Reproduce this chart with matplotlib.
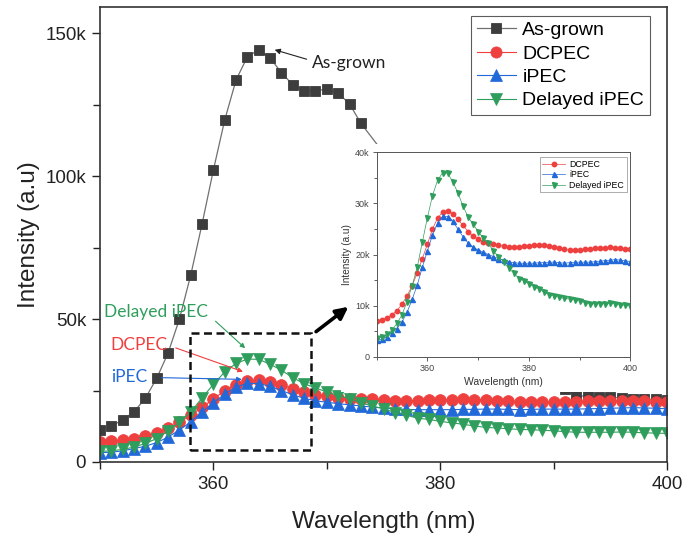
import numpy as np
import matplotlib
matplotlib.use('Agg')
import matplotlib.pyplot as plt
from matplotlib.patches import Rectangle, FancyArrowPatch
from matplotlib.ticker import FuncFormatter, MultipleLocator

plt.rcParams['font.family'] = ['Liberation Sans', 'DejaVu Sans']

# PL spectra, intensity in counts
wavelength = np.arange(350, 401)

asgrown_nm = [350, 351, 352, 353, 354, 355, 356, 357, 358, 359, 360, 361,
              362, 363, 364, 365, 366, 367, 368, 369, 370, 371, 372, 373,
              391, 392, 393, 394, 395, 396, 397, 398, 399, 400]
asgrown = [11.2, 12.6, 14.7, 17.6, 22.3, 29.3, 38.1, 50.0, 65.4, 83.3, 102.2, 119.7,
           133.7, 141.8, 144.2, 141.3, 136.2, 131.9, 129.9, 129.9, 130.4, 129.0, 125.3, 118.5,
           25.5, 23.2, 23.0, 22.8, 22.6, 22.4, 22.2, 22.0, 21.9, 21.8]

dcpec = [7.0, 7.2, 7.6, 8.2, 9.0, 10.3, 11.9, 13.9, 16.4, 19.2,
         22.0, 25.0, 27.1, 28.3, 28.6, 28.0, 26.9, 25.7, 24.5, 23.6,
         23.0, 22.5, 22.2, 22.0, 21.9, 21.6, 21.4, 21.5, 21.5, 21.7,
         21.7, 21.8, 21.9, 21.8, 21.7, 21.4, 21.2, 21.0, 20.9, 20.9,
         20.9, 21.0, 21.1, 21.2, 21.3, 21.3, 21.4, 21.3, 21.2, 21.1, 21.0]

ipec = [3.3, 3.4, 3.9, 4.7, 5.5, 6.8, 8.7, 11.2, 14.0, 17.5,
        20.7, 23.8, 26.2, 27.5, 27.4, 26.5, 25.0, 23.5, 22.3, 21.4,
        20.9, 20.4, 20.0, 19.6, 19.2, 18.9, 18.6, 18.4, 18.3, 18.3,
        18.3, 18.3, 18.4, 18.4, 18.5, 18.5, 18.4, 18.3, 18.4, 18.5,
        18.5, 18.5, 18.5, 18.6, 18.7, 18.8, 18.9, 19.0, 18.9, 18.8, 18.6]

delayed = [3.7, 3.9, 4.4, 5.2, 6.5, 8.2, 10.8, 13.9, 17.5, 22.4,
           27.2, 31.5, 34.5, 36.0, 35.9, 34.2, 32.1, 29.5, 27.4, 25.9,
           24.5, 23.2, 22.2, 20.7, 19.6, 18.6, 17.3, 16.4, 15.3, 14.9,
           14.2, 13.7, 13.2, 12.6, 12.1, 11.9, 11.6, 11.4, 11.3, 11.1,
           10.9, 10.6, 10.4, 10.4, 10.4, 10.4, 10.5, 10.4, 10.2, 10.1, 10.0]

asgrown = np.array(asgrown) * 1000
dcpec = np.array(dcpec) * 1000
ipec = np.array(ipec) * 1000
delayed = np.array(delayed) * 1000

c_grey = '#3d3d3d'
c_red = '#ef4040'
c_blue = '#2168d8'
c_green = '#2f9e5c'

kfmt = FuncFormatter(lambda v, p: '0' if v == 0 else f'{int(round(v / 1000))}k')

fig = plt.figure(figsize=(7.0, 5.39), dpi=100)
ax = fig.add_axes([0.1429, 0.1429, 0.81, 0.8432])
ax.set_zorder(1)

ax.plot(asgrown_nm, asgrown, color='#707070', lw=0.9, marker='s', ms=7.5, mew=0.6,
        mfc=c_grey, mec=c_grey, label='As-grown')
ax.plot(wavelength, dcpec, color=c_red, lw=0.8, marker='o', ms=8.5, mew=0.5,
        mfc=c_red, mec=c_red, label='DCPEC')
ax.plot(wavelength, ipec, color=c_blue, lw=0.8, marker='^', ms=8.8, mew=0.5,
        mfc=c_blue, mec=c_blue, label='iPEC')
ax.plot(wavelength, delayed, color=c_green, lw=0.8, marker='v', ms=9.2, mew=0.5,
        mfc=c_green, mec=c_green, label='Delayed iPEC')

ax.set_xlim(350, 400)
ax.set_ylim(0, 159000)
ax.set_xticks([360, 380, 400])
ax.xaxis.set_minor_locator(MultipleLocator(10))
ax.yaxis.set_major_locator(MultipleLocator(50000))
ax.yaxis.set_minor_locator(MultipleLocator(25000))
ax.yaxis.set_major_formatter(kfmt)
ax.tick_params(which='both', direction='out', top=False, right=False,
               labelsize=13.5, width=1.0, colors='#222222')
ax.tick_params(which='major', length=6, pad=4)
ax.tick_params(which='minor', length=5)
for s in ax.spines.values():
    s.set_linewidth(1.2)
    s.set_color('#333333')
ax.set_xlabel('Wavelength (nm)', fontsize=17.5, labelpad=13, color='#222222')
ax.set_ylabel('Intensity (a.u)', fontsize=17.5, labelpad=4, color='#222222')

leg = ax.legend(loc='upper right', bbox_to_anchor=(0.970, 0.982), borderaxespad=0,
                fontsize=14, frameon=True, fancybox=False, edgecolor='#333333',
                handlelength=2.0, handletextpad=0.35, labelspacing=0.3, borderpad=0.3,
                markerscale=0.95)
leg.get_frame().set_linewidth(0.8)

# callouts
afont = ['Lato', 'DejaVu Sans']
ax.annotate('As-grown', xy=(365.4, 144200), xytext=(368.7, 139500),
            ha='left', va='center', fontsize=12.5, family=afont, color='#222222',
            arrowprops=dict(arrowstyle='-|>', color='#222222', lw=0.8, relpos=(0, 0.65),
                            mutation_scale=8, shrinkA=2, shrinkB=0))
ax.annotate('Delayed iPEC', xy=(362.8, 39800), xytext=(354.9, 52600),
            ha='center', va='center', fontsize=12.5, family=afont, color=c_green,
            arrowprops=dict(arrowstyle='-|>', color=c_green, lw=0.8, relpos=(1, 0.35),
                            mutation_scale=7, shrinkA=5, shrinkB=0))
ax.annotate('DCPEC', xy=(362.6, 31600), xytext=(353.45, 40900),
            ha='center', va='center', fontsize=12.5, family=afont, color=c_red,
            arrowprops=dict(arrowstyle='-|>', color=c_red, lw=0.8, relpos=(1, 0.5),
                            mutation_scale=7, shrinkA=4, shrinkB=0))
ax.annotate('iPEC', xy=(362.5, 28900), xytext=(352.6, 29600),
            ha='center', va='center', fontsize=12.5, family=afont, color=c_blue,
            arrowprops=dict(arrowstyle='-|>', color=c_blue, lw=0.8, relpos=(1, 0.5),
                            mutation_scale=7, shrinkA=8, shrinkB=0))

# zoom region
ax.add_patch(Rectangle((357.9, 4200), 10.7, 41000, fill=False, ls=(0, (3.2, 1.8)),
                       lw=1.8, ec='#111111', zorder=6))

# white backing for the inset
fig.add_artist(Rectangle((0.487, 0.2727), 0.44, 0.46, transform=fig.transFigure,
                         facecolor='white', edgecolor='none', zorder=2))

# pointer from the zoom box to the inset, drawn above the backing
fig.add_artist(FancyArrowPatch((369.05, 45600), (371.9, 54300), transform=ax.transData,
                               arrowstyle='-|>', color='black', lw=2.6,
                               mutation_scale=18, shrinkA=0, shrinkB=0, zorder=4))

ins = fig.add_axes([0.538, 0.3382, 0.3627, 0.3792])
ins.set_zorder(3)
ins.plot(wavelength, dcpec, color=c_red, lw=0.5, marker='o', ms=3.2,
         mfc=c_red, mec=c_red, label='DCPEC')
ins.plot(wavelength, ipec, color=c_blue, lw=0.5, marker='^', ms=3.6,
         mfc=c_blue, mec=c_blue, label='iPEC')
ins.plot(wavelength, delayed, color=c_green, lw=0.5, marker='v', ms=3.6,
         mfc=c_green, mec=c_green, label='Delayed iPEC')
ins.set_xlim(350, 400)
ins.set_ylim(0, 40000)
ins.set_xticks([360, 380, 400])
ins.xaxis.set_minor_locator(MultipleLocator(10))
ins.yaxis.set_major_locator(MultipleLocator(10000))
ins.yaxis.set_minor_locator(MultipleLocator(5000))
ins.yaxis.set_major_formatter(kfmt)
ins.tick_params(which='both', direction='out', top=False, right=False,
                labelsize=6.5, width=0.6, colors='#444444', pad=2)
ins.tick_params(which='major', length=3)
ins.tick_params(which='minor', length=2)
for s in ins.spines.values():
    s.set_linewidth(0.7)
    s.set_color('#555555')
ins.set_xlabel('Wavelength (nm)', fontsize=7.5, labelpad=3, color='#333333')
ins.set_ylabel('Intensity (a.u)', fontsize=7.2, labelpad=2, color='#333333')
ileg = ins.legend(loc='upper right', bbox_to_anchor=(0.985, 0.975), borderaxespad=0,
                  fontsize=6.3, frameon=True, fancybox=False, edgecolor='#888888',
                  handlelength=2.6, handletextpad=0.5, labelspacing=0.15, borderpad=0.3)
ileg.get_frame().set_linewidth(0.6)

fig.savefig('out.png', dpi=100)
